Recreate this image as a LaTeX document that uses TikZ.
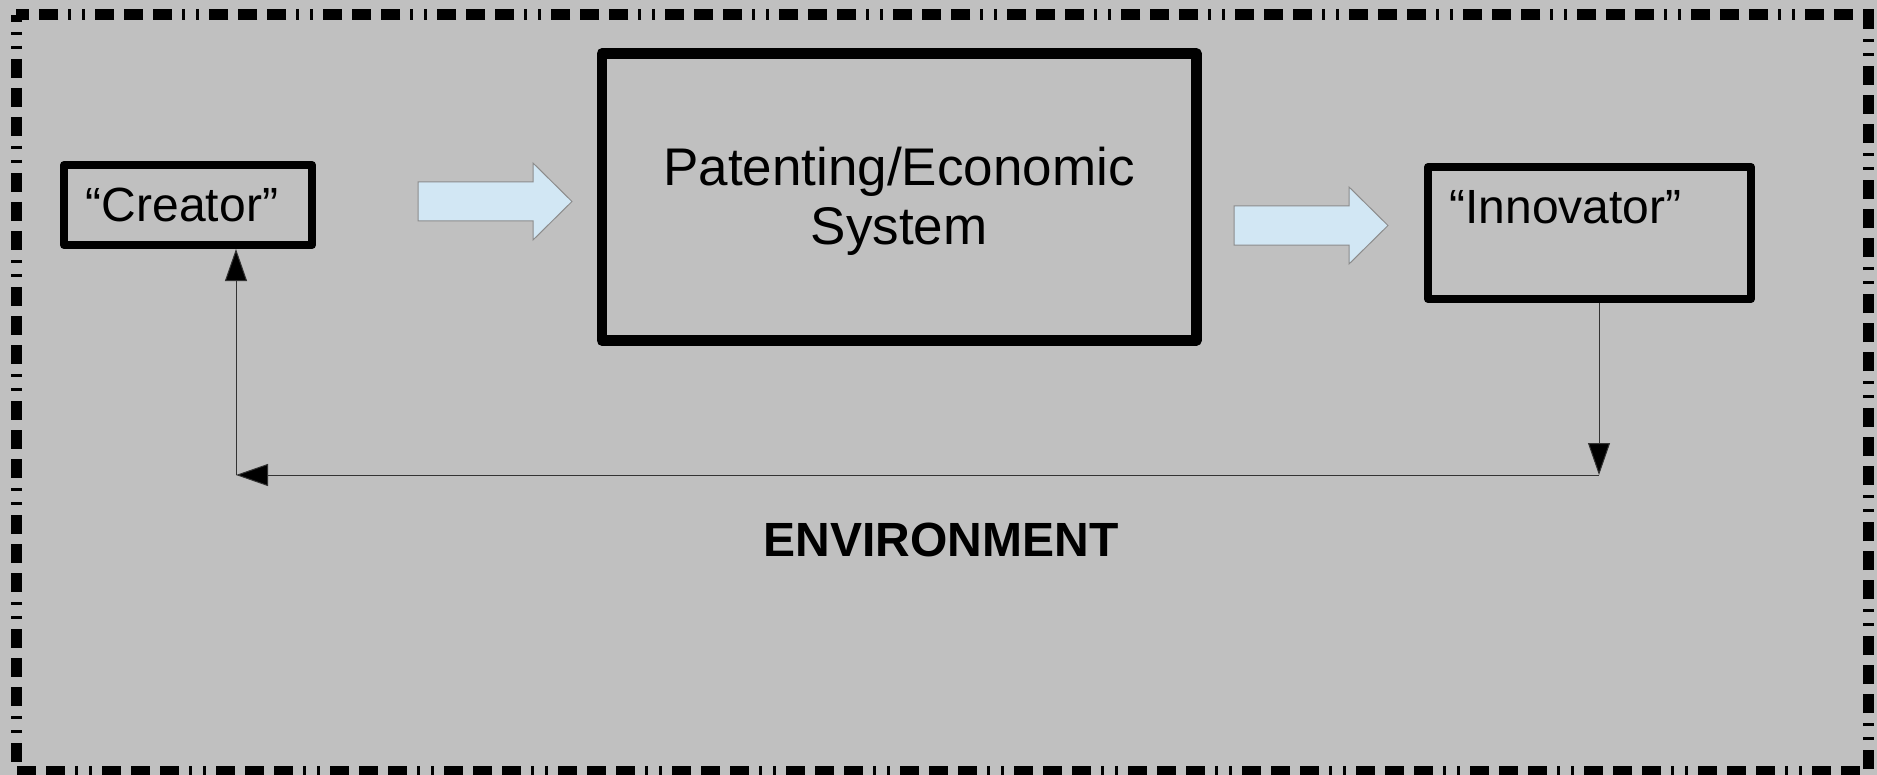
\documentclass[tikz,border=0pt]{standalone}
\usepackage{fontspec}
\setmainfont{Liberation Sans}
\usetikzlibrary{arrows.meta}

\definecolor{envgrey}{HTML}{C0C0C0}
\definecolor{arrowblue}{HTML}{D2E7F4}
\definecolor{arrowedge}{HTML}{8C8C8C}

\tikzset{
  box/.style={draw, line width=4pt, line join=round, inner sep=0pt},
  label/.style={font=\fontsize{24}{28}\selectfont, inner sep=0pt},
  feed/.style={line width=0.5pt, draw=black!80,
    -{Triangle[length=16pt, width=11pt, fill=black]}},
  bluearrow/.style={fill=arrowblue, draw=arrowedge, line width=0.5pt}
}

\begin{document}
\begin{tikzpicture}[x=0.5pt, y=-0.5pt]

% Background and dash-dot frame
\fill[envgrey] (0,0) rectangle (1877,775);
\useasboundingbox (0,0) rectangle (1877,775);
\draw[line width=5.5pt,
  dash pattern=on 1.5pt off 5.5pt on 1.5pt off 5pt on 9.5pt off 5pt on 9.5pt off 5pt on 9.5pt off 5pt,
  dash phase=48.5pt] (16,15) rectangle (1868,771);

% Boxes
\node[box, label, minimum width=124pt, minimum height=40pt] (creator) at (188,205) {“Creator”\kern6pt};
\node[box, line width=5.25pt, minimum width=297.25pt, minimum height=143.5pt,
  align=center, font=\fontsize{26.5}{29.5}\selectfont] (system) at (899,197)
  {\rule{0pt}{23.5pt}Patenting/Economic\\System};
\node[box, minimum width=161.5pt, minimum height=66pt] (innov) at (1589.5,233) {};
\node[label, anchor=base] (innovtext) at (1565.5,223) {“Innovator”};

% Block arrows
\coordinate (t1) at (418,201.5);
\coordinate (t2) at (1234,225.5);
\foreach \t in {t1,t2}
  \draw[bluearrow] (\t) ++(0,-19.5) -- ++(115,0) -- ++(0,-19) -- ++(39,38.5)
    -- ++(-39,38.5) -- ++(0,-19) -- ++(-115,0) -- cycle;

% Feedback loop
\coordinate (rc) at (1599,475);
\coordinate (lc) at (236,475);
\draw[feed] (innov.south -| rc) -- (rc);
\draw[feed] (rc) -- (lc);
\draw[feed] (lc) -- (creator.south -| lc);

\node[anchor=base, font=\fontsize{24}{28}\selectfont\bfseries] (env) at (941,556) {ENVIRONMENT};

\end{tikzpicture}
\end{document}
